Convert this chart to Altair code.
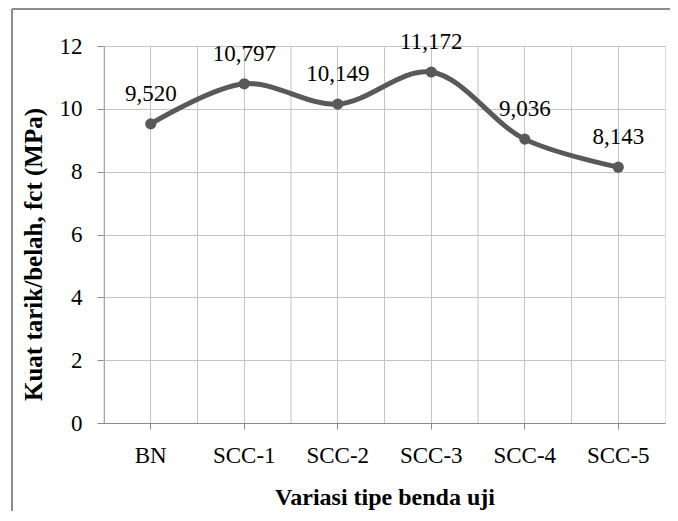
import altair as alt
import pandas as pd

categories = ["BN", "SCC-1", "SCC-2", "SCC-3", "SCC-4", "SCC-5"]
values = [9.520, 10.797, 10.149, 11.172, 9.036, 8.143]
labels = [f"{v:.3f}".replace(".", ",") for v in values]
y_ticks = [0, 2, 4, 6, 8, 10, 12]

df = pd.DataFrame({"cat": categories, "val": values, "lbl": labels})
frame_df = pd.DataFrame({"k": [0]})

FONT = "Liberation Serif"
GRID = "#c4c4c4"
AXIS = "#8a8a8a"
LINE = "#595959"

x_axis = alt.Axis(
    title="Variasi tipe benda uji", grid=True, gridColor=GRID, bandPosition=0.5,
    labelAngle=0,
    labelFont=FONT, labelFontSize=23, labelColor="#000",
    labelBaseline="alphabetic", labelPadding=33,
    tickSize=6, tickColor=AXIS, domainColor=AXIS,
    titleFont=FONT, titleFontSize=24, titleFontWeight="bold", titleColor="#000",
    titleBaseline="alphabetic", titleY=81,
)
x_scale = alt.Scale(type="band", paddingInner=0, paddingOuter=0)

def xenc(bp=0.5):
    return alt.X("cat:N", sort=categories, scale=x_scale, axis=x_axis, bandPosition=bp)

y_enc = alt.Y(
    "val:Q", scale=alt.Scale(domain=[0, 12]),
    axis=alt.Axis(
        title="Kuat tarik/belah, fct (MPa)", values=y_ticks, grid=True,
        gridColor=GRID, tickSize=7, tickColor=AXIS, domainColor=AXIS,
        labelPadding=15, labelFont=FONT, labelFontSize=23, labelColor="#000",
        titleFont=FONT, titleFontSize=25, titleFontWeight="bold", titleColor="#000",
        titleX=-63, titleY=208, titleBaseline="alphabetic",
    ),
)

base = alt.Chart(df)
grid_edge = base.mark_rule(color=GRID, strokeWidth=1).encode(x=xenc(0))
line = base.mark_line(interpolate="catmull-rom", color=LINE, strokeWidth=5).encode(x=xenc(), y=y_enc)
pts = base.mark_circle(size=125, color=LINE, opacity=1).encode(x=xenc(), y=y_enc)
txt = base.mark_text(dy=-23, baseline="alphabetic", font=FONT, fontSize=23, color="#000").encode(
    x=xenc(), y=y_enc, text="lbl:N")

frame_top = alt.Chart(frame_df).mark_rule(color="#8c8c8c", strokeWidth=2).encode(
    x=alt.value(-92), x2=alt.value(600), y=alt.value(-37))
frame_left = alt.Chart(frame_df).mark_rule(color="#8c8c8c", strokeWidth=2).encode(
    x=alt.value(-92), y=alt.value(-37), y2=alt.value(520))

chart = alt.layer(grid_edge, line, pts, txt, frame_top, frame_left).properties(
    width=561, height=377,
    autosize=alt.AutoSizeParams(type="none"),
    padding={"left": 96, "top": 38, "right": 5, "bottom": 88},
).configure_view(stroke=GRID, strokeWidth=1).configure(background="white")

chart.save("out.html", embed_options={"renderer": "svg", "actions": False})
